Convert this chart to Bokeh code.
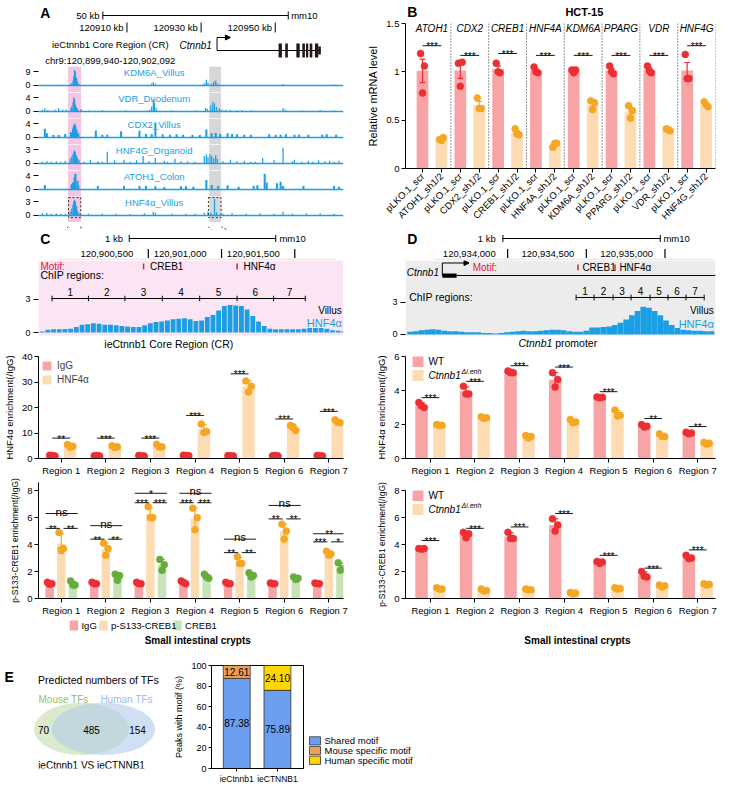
import numpy as np
from bokeh.plotting import figure
from bokeh.models import (Range1d, FixedTicker, Label, Legend, LegendItem, Span,
                          BoxAnnotation, Arrow, NormalHead, ColumnDataSource)
from bokeh.layouts import column, row
from bokeh.core.properties import value
from bokeh.embed import file_html
from bokeh.resources import INLINE

FONT = "Liberation Sans"
TRACK_BLUE = "#1a9fe4"
BAR_RED, BAR_ORG, BAR_GRN = "#f8a4a6", "#fddcb4", "#c8e3b5"
PT_RED, PT_ORG, PT_GRN = "#ec2f33", "#f5a623", "#66ad3b"
E_BLUE, E_ORG, E_YEL = "#6c9ef0", "#ea9f5a", "#fed700"

# ===================== DATA =====================
# ---- Panel A: ChIP-seq peaks (kb on chr9, mm10; signal) ----
track_names = ["KDM6A_Villus", "VDR_Duodenum", "CDX2_Villus", "HNF4G_Organoid", "ATOH1_Colon", "HNF4α_Villus"]
track_scale = [9, 4, 4, 3, 4, 3]
kdm6a_peaks = [(120893.0, 0.3), (120894.3, 0.4), (120895.7, 0.3), (120897.0, 0.5), (120898.6, 0.4), (120900.0, 0.8),
               (120900.2, 1.5), (120900.5, 3.0), (120900.7, 6.0), (120900.9, 10.0), (120901.1, 9.0), (120901.4, 5.0),
               (120901.6, 2.5), (120901.8, 1.2), (120902.0, 0.6), (120903.2, 0.4), (120906.6, 0.3), (120911.1, 0.3),
               (120915.2, 0.3), (120919.8, 1.3), (120920.2, 2.2), (120920.7, 1.2), (120927.0, 0.3), (120930.9, 0.4),
               (120932.7, 1.5), (120933.2, 3.7), (120933.6, 2.0), (120934.5, 1.2), (120935.0, 2.5), (120935.5, 3.2),
               (120935.9, 1.2), (120938.4, 0.4), (120943.0, 0.3), (120947.5, 0.3), (120952.0, 0.9), (120954.3, 0.3),
               (120960.0, 0.3), (120964.5, 0.6)]
vdr_peaks = [(120893.0, 0.5), (120893.6, 0.9), (120894.3, 0.4), (120896.1, 0.6), (120897.0, 0.9), (120898.0, 0.5),
             (120898.9, 0.6), (120900.0, 0.9), (120900.2, 1.5), (120900.5, 2.6), (120900.7, 4.1), (120900.9, 3.5),
             (120901.1, 2.0), (120901.4, 1.2), (120901.6, 0.8), (120902.5, 0.7), (120904.3, 0.3), (120907.7, 0.4),
             (120913.4, 0.3), (120919.3, 0.6), (120919.8, 1.4), (120920.2, 3.5), (120920.5, 2.5), (120920.9, 1.0),
             (120924.8, 0.3), (120930.5, 0.3), (120933.0, 1.0), (120933.4, 0.8), (120934.3, 1.8), (120934.8, 2.7),
             (120935.2, 2.3), (120935.7, 1.3), (120936.4, 0.9), (120937.0, 0.6), (120938.0, 0.5), (120939.1, 0.4),
             (120940.7, 0.4), (120942.0, 0.4), (120944.1, 0.3), (120952.0, 1.0), (120952.5, 0.6), (120956.6, 0.3),
             (120961.1, 0.4), (120964.5, 0.3)]
cdx2_peaks = [(120893.6, 2.5), (120894.1, 1.2), (120895.7, 0.7), (120897.0, 0.7), (120898.6, 1.0), (120900.0, 1.5),
              (120900.5, 2.5), (120900.7, 3.2), (120900.9, 3.9), (120901.1, 3.3), (120901.4, 2.2), (120901.8, 1.2),
              (120906.1, 2.0), (120907.7, 0.8), (120908.9, 0.8), (120912.3, 1.8), (120916.8, 1.9), (120918.4, 1.0),
              (120919.8, 1.0), (120920.7, 4.3), (120922.5, 0.9), (120924.3, 0.8), (120925.9, 0.9), (120927.5, 0.8),
              (120929.8, 0.7), (120931.6, 0.7), (120933.2, 2.3), (120934.5, 1.2), (120935.5, 1.3), (120936.6, 1.0),
              (120938.4, 1.2), (120939.5, 1.0), (120940.7, 0.9), (120942.5, 0.8), (120944.1, 0.8), (120948.6, 0.9),
              (120950.2, 0.7), (120951.4, 0.8), (120952.7, 0.9), (120954.8, 0.8), (120955.9, 0.8), (120958.2, 0.8),
              (120961.6, 0.8), (120962.7, 0.9), (120965.0, 0.8)]
hnf4g_peaks = [(120893.0, 0.4), (120894.1, 0.5), (120895.2, 0.4), (120896.4, 0.5), (120897.5, 0.4), (120898.6, 0.6),
               (120899.8, 1.0), (120900.2, 1.5), (120900.5, 2.0), (120900.7, 2.5), (120900.9, 2.85), (120901.1, 2.4),
               (120901.4, 1.7), (120901.6, 1.2), (120902.0, 0.8), (120903.2, 0.4), (120904.8, 0.8), (120906.6, 0.5),
               (120907.7, 0.4), (120908.9, 2.5), (120910.7, 0.7), (120913.0, 0.8), (120914.5, 0.4), (120916.1, 0.7),
               (120917.7, 1.6), (120919.1, 0.5), (120920.7, 1.2), (120922.9, 0.6), (120923.6, 0.4), (120925.5, 1.0),
               (120927.0, 0.5), (120928.6, 0.5), (120930.5, 0.4), (120932.7, 1.6), (120933.2, 2.0), (120933.6, 1.4),
               (120934.1, 2.0), (120934.5, 1.6), (120935.0, 1.2), (120935.5, 1.8), (120935.9, 1.0), (120937.3, 0.5),
               (120939.1, 0.8), (120940.7, 0.5), (120942.5, 0.6), (120944.1, 0.4), (120945.2, 0.4), (120947.0, 1.2),
               (120949.8, 0.7), (120952.0, 3.4), (120954.3, 0.5), (120954.8, 0.8), (120956.6, 0.4), (120958.2, 0.6),
               (120959.3, 0.4), (120960.7, 0.7), (120962.3, 0.5), (120963.4, 0.6), (120964.5, 0.4), (120965.7, 0.6)]
atoh1_peaks = [(120893.6, 1.3), (120900.2, 1.5), (120900.5, 2.0), (120900.9, 3.5), (120901.1, 4.5), (120901.6, 2.5),
               (120901.8, 1.2), (120906.6, 1.0), (120913.0, 1.0), (120916.8, 1.0), (120918.4, 1.0), (120920.7, 0.9),
               (120922.9, 0.7), (120927.0, 0.9), (120928.2, 0.9), (120930.0, 0.8), (120933.2, 2.7), (120934.5, 1.3),
               (120936.1, 1.0), (120938.4, 1.2), (120941.1, 0.8), (120944.8, 1.0), (120945.7, 1.2), (120947.5, 4.5),
               (120948.0, 2.0), (120950.5, 1.8), (120951.4, 2.2), (120952.0, 1.0), (120957.0, 1.0), (120964.5, 1.0),
               (120965.7, 0.8)]
hnf4a_peaks = [(120893.0, 0.5), (120894.1, 0.6), (120895.2, 0.4), (120896.4, 0.5), (120897.5, 0.4), (120898.6, 0.4),
               (120899.8, 0.8), (120900.2, 1.5), (120900.5, 2.3), (120900.7, 3.0), (120900.9, 3.3), (120901.1, 3.0),
               (120901.4, 2.0), (120901.6, 1.0), (120902.0, 0.6), (120904.3, 0.4), (120907.7, 0.4), (120911.1, 0.4),
               (120914.5, 0.3), (120918.0, 0.5), (120920.2, 0.8), (120920.7, 0.6), (120924.8, 0.4), (120928.2, 0.4),
               (120930.5, 0.4), (120932.7, 0.6), (120933.6, 0.8), (120934.3, 0.6), (120935.2, 3.6), (120935.7, 0.7),
               (120937.3, 0.4), (120939.5, 0.5), (120943.0, 0.4), (120946.4, 0.5), (120949.8, 0.4), (120952.0, 0.8),
               (120954.3, 0.4), (120957.7, 0.5), (120961.1, 0.5), (120964.5, 0.4)]
track_blocky = [False, False, True, False, True, False]
a_coord_ticks_kb = [120910, 120930, 120950]
cr_window_kb = (120899.3, 120902.5)
promoter_window_kb = (120933.9, 120936.8)
ctnnb1_tss_kb = 120934.3
ctnnb1_end_kb = 120962.3
ctnnb1_exons_kb = [(120950.9, 120951.8), (120952.7, 120953.4), (120955.7, 120956.6), (120957.3, 120958.0),
                   (120958.3, 120958.9), (120959.3, 120960.0), (120960.7, 120961.6)]
ctnnb1_utr_kb = (120961.6, 120962.3)

# ---- Panel B: qPCR, HCT-15 ----
b_genes = ["ATOH1", "CDX2", "CREB1", "HNF4A", "KDM6A", "PPARG", "VDR", "HNF4G"]
b_scr_reps = [[1.19, 1.06, 0.78], [1.09, 1.10, 0.85], [1.09, 0.99, 1.00], [1.05, 0.99, 1.00],
              [1.02, 1.02, 0.99], [1.06, 0.98, 1.00], [1.06, 0.99, 1.01], [1.18, 0.93, 0.93]]
b_sh_reps = [[0.30, 0.32, 0.29], [0.73, 0.62, 0.62], [0.41, 0.35, 0.36], [0.22, 0.26, 0.26],
             [0.70, 0.68, 0.61], [0.65, 0.60, 0.52], [0.41, 0.39, 0.40], [0.69, 0.64, 0.66]]
b_sig_y = [1.27, 1.17, 1.19, 1.17, 1.17, 1.17, 1.17, 1.27]
b_sig_txt = ["***", "***", "***", "***", "***", "***", "***", "***"]

# ---- Panel C: ieCtnnb1 core region ----
cr_view_bp = (120899900, 120901775)
cr_bin_start = 120899905
cr_bin_bp = 35
cr_hnf4a_profile = [0.1, 0.25, 0.3, 0.3, 0.32, 0.35, 0.5, 0.7, 0.75, 0.85, 0.8, 0.7, 0.7, 0.65, 0.6, 0.55, 0.5,
                    0.5, 0.65, 0.85, 0.95, 1.0, 1.1, 1.2, 1.25, 1.3, 1.2, 1.05, 1.1, 1.4, 1.6, 2.0, 2.4, 2.5,
                    2.45, 2.4, 2.1, 1.5, 1.0, 0.6, 0.35, 0.3, 0.3, 0.3, 0.3, 0.3, 0.35, 0.4, 0.4, 0.4, 0.35,
                    0.2, 0.15, 0.1]
cr_region_bounds = [120899983, 120900207, 120900431, 120900661, 120900891, 120901121, 120901345, 120901540]
cr_motif_pos = [120900546, 120901121]
cr_motif_names = ["CREB1", "HNF4α"]
cr_coord_ticks = [120900500, 120901000, 120901500]
regions = ["Region 1", "Region 2", "Region 3", "Region 4", "Region 5", "Region 6", "Region 7"]
c_hnf_igg = [[1.3, 1.0, 1.2], [1.1, 1.0, 1.2], [1.2, 1.0, 1.1], [1.3, 1.1, 1.2], [1.2, 1.0, 1.1],
             [1.1, 1.0, 1.2], [1.2, 1.0, 1.1]]
c_hnf_hnf4a = [[5.5, 4.8, 4.4], [5.0, 4.6, 4.3], [5.6, 4.6, 4.5], [13.5, 10.6, 10.2], [30.4, 28.3, 26.1],
               [12.9, 11.0, 12.5], [15.2, 14.0, 14.2]]
c_hnf_sig_y = [8.0, 8.0, 8.0, 16.9, 33.2, 15.5, 18.5]
c_hnf_sig_txt = ["**", "***", "***", "***", "***", "***", "***"]
c_cr_igg = [[1.2, 1.1, 1.05], [1.2, 1.1, 1.1], [1.2, 1.1, 1.1], [1.3, 1.1, 1.2], [1.2, 1.1, 1.1],
            [1.15, 1.1, 1.1], [1.15, 1.1, 1.1]]
c_cr_ps133 = [[4.9, 3.7, 3.6], [4.1, 3.7, 3.2], [6.8, 6.0, 6.0], [6.7, 6.0, 5.1], [3.1, 2.6, 2.6],
              [5.5, 5.0, 4.4], [3.5, 3.3, 3.2]]
c_cr_creb1 = [[1.3, 1.0, 1.0], [1.8, 1.7, 1.35], [2.9, 2.5, 2.1], [1.8, 1.5, 1.6], [1.9, 1.7, 1.6],
              [1.6, 1.5, 1.4], [2.65, 2.2, 2.1]]
c_cr_top_y = [6.3, 5.4, 7.8, 7.8, 4.4, 6.9, 4.8]
c_cr_top_txt = ["ns", "ns", "*", "ns", "ns", "ns", "**"]
c_cr_pair_y = [5.2, 4.4, 7.1, 7.1, 3.4, 5.9, 4.2]
c_cr_left_txt = ["**", "**", "***", "***", "**", "**", "***"]
c_cr_right_txt = ["**", "**", "***", "***", "**", "**", "*"]

# ---- Panel D: Ctnnb1 promoter ----
pr_view_bp = (120933533, 120935310)
pr_bin_start = 120933543
pr_bin_bp = 32.6
pr_hnf4a_profile = [0.25, 0.3, 0.4, 0.45, 0.5, 0.45, 0.35, 0.3, 0.3, 0.25, 0.2, 0.2, 0.2, 0.15, 0.15, 0.1,
                    0.15, 0.2, 0.25, 0.3, 0.35, 0.3, 0.3, 0.35, 0.4, 0.45, 0.45, 0.4, 0.3, 0.25, 0.25, 0.35,
                    0.65, 0.65, 0.7, 0.75, 0.9, 1.1, 1.4, 1.8, 2.2, 2.6, 2.5, 2.2, 1.8, 1.3, 0.9, 0.6, 0.45,
                    0.4, 0.35, 0.35, 0.3, 0.3]
pr_region_bounds = [120934511, 120934614, 120934723, 120934826, 120934935, 120935038, 120935141, 120935245]
pr_motif_pos = [120934522, 120934734]
pr_coord_ticks = [120934000, 120934500, 120935000]
pr_tss_bp = 120933744
pr_exon_bp = (120933744, 120933826)
d_hnf_wt = [[3.3, 3.0, 3.1], [4.25, 3.8, 3.8], [5.15, 5.05, 5.05], [5.05, 4.65, 4.2], [3.62, 3.6, 3.58],
            [2.0, 1.9, 1.85], [1.55, 1.5, 1.45]]
d_hnf_mut = [[2.0, 1.95, 1.95], [2.45, 2.4, 2.35], [1.35, 1.3, 1.2], [2.3, 2.15, 2.1], [2.85, 2.55, 2.5],
             [1.45, 1.3, 1.3], [0.95, 0.9, 0.85]]
d_hnf_sig_y = [3.58, 4.54, 5.46, 5.38, 3.93, 2.35, 1.88]
d_hnf_sig_txt = ["***", "***", "***", "***", "***", "**", "**"]
d_cr_wt = [[3.7, 3.7, 3.65], [4.9, 4.8, 4.5], [4.9, 4.45, 4.45], [5.9, 5.45, 5.0], [2.75, 2.7, 2.6],
           [2.0, 1.6, 1.65], [3.2, 3.0, 2.95]]
d_cr_mut = [[0.8, 0.7, 0.7], [0.7, 0.6, 0.55], [0.7, 0.65, 0.65], [0.45, 0.4, 0.35], [0.8, 0.75, 0.7],
            [1.0, 0.95, 0.85], [1.1, 1.05, 1.0]]
d_cr_sig_y = [4.3, 5.2, 5.3, 6.3, 3.2, 2.25, 3.6]
d_cr_sig_txt = ["***", "***", "***", "***", "***", "***", "***"]

# ---- Panel E ----
venn_counts = [70, 485, 154]
e_groups = ["ieCtnnb1", "ieCTNNB1"]
e_shared = [87.38, 75.89]
e_mouse_only = [12.61, 0.0]
e_human_only = [0.0, 24.10]


# ===================== HELPERS =====================
def mkfig(w, h, xr, yr, l=0, r=0, t=0, b=0, xaxis=True, yaxis=True):
    p = figure(width=w, height=h, x_range=xr, y_range=yr,
               x_axis_location="below" if xaxis else None,
               y_axis_location="left" if yaxis else None,
               min_border_left=l, min_border_right=r, min_border_top=t, min_border_bottom=b,
               output_backend="svg", toolbar_location=None, tools="")
    p.outline_line_color = None
    p.xgrid.visible = False
    p.ygrid.visible = False
    return p


def txt(p, x, y, s, size=9, color="black", align="left", baseline="middle", style="normal", yoff=0):
    p.text(x=[x], y=[y], text=[s], text_font=value(FONT), text_font_size=f"{size}px",
           text_color=color, text_align=align, text_baseline=baseline,
           text_font_style=style, y_offset=yoff)


def slab(p, x, y, s, size=10, style="normal", align="left", baseline="middle", color="black"):
    p.add_layout(Label(x=x, y=y, x_units="screen", y_units="screen", text=s, text_font=FONT,
                       text_font_size=f"{size}px", text_font_style=style, text_align=align,
                       text_baseline=baseline, text_color=color))


def style_axis(ax, size=9.5, tick_out=4):
    ax.axis_line_color = "black"
    ax.axis_line_width = 1
    ax.major_tick_line_color = "black"
    ax.major_tick_in = 0
    ax.major_tick_out = tick_out
    ax.minor_tick_line_color = None
    ax.major_label_text_font = FONT
    ax.major_label_text_font_size = f"{size}px"
    ax.major_label_text_color = "black"
    ax.major_label_standoff = 2
    ax.axis_label_text_font = FONT
    ax.axis_label_text_font_style = "normal"
    ax.axis_label_text_font_size = "9.5px"
    ax.axis_label_text_color = "black"
    ax.axis_label_standoff = 4


def track_axis(p, top):
    ax = p.yaxis[0]
    style_axis(ax, 9, 5)
    ax.ticker = FixedTicker(ticks=[0, top])
    ax.axis_line_color = None
    ax.major_label_standoff = 3


def sig(p, x0, x1, y, s, size=10):
    p.segment(x0=[x0], y0=[y], x1=[x1], y1=[y], line_color="black", line_width=0.9)
    if "*" in s:
        txt(p, (x0 + x1) / 2, y, s, size, align="center", baseline="alphabetic", yoff=1)
    else:
        txt(p, (x0 + x1) / 2, y, s, size + 1.5, align="center", baseline="alphabetic", yoff=-2)


def grouped(p, series, offs, width, bar_cols, pt_cols, jit, cap, xs, err="sd"):
    rends = []
    for pts, off, bc, pc in zip(series, offs, bar_cols, pt_cols):
        arr = np.array(pts, dtype=float)
        m = arr.mean(axis=1)
        e = arr.std(axis=1, ddof=1)
        if err == "sem":
            e = e / np.sqrt(arr.shape[1])
        x = np.array(xs, dtype=float) + off
        r = p.vbar(x=x, top=m, width=width, fill_color=bc, line_color=None)
        p.segment(x0=x, y0=m - e, x1=x, y1=m + e, line_color=pc, line_width=1.2)
        p.segment(x0=x - cap, y0=m + e, x1=x + cap, y1=m + e, line_color=pc, line_width=1.2)
        p.segment(x0=x - cap, y0=m - e, x1=x + cap, y1=m - e, line_color=pc, line_width=1.2)
        px = (x[:, None] + np.array(jit)[None, :]).ravel()
        p.scatter(x=px, y=arr.ravel(), size=7, fill_color=pc, line_color=pc, line_width=0.5)
        rends.append(r)
    return rends


def region_axes(p, yticks, ylabel):
    style_axis(p.xaxis[0], 9.5)
    style_axis(p.yaxis[0], 9.5)
    p.xaxis[0].ticker = FixedTicker(ticks=[1, 2, 3, 4, 5, 6, 7])
    p.xaxis[0].major_label_overrides = {i + 1: regions[i] for i in range(7)}
    p.yaxis[0].ticker = FixedTicker(ticks=yticks)
    p.yaxis[0].axis_label = ylabel


def mk_legend(items, location, orientation="vertical", spacing=2, size="10px", margin=3):
    return Legend(items=[LegendItem(label=l, renderers=[r]) for l, r in items], location=location,
                  orientation=orientation, label_text_font=FONT, label_text_font_size=size,
                  glyph_width=11, glyph_height=11, label_height=12, label_standoff=5,
                  spacing=spacing, padding=0, margin=margin, border_line_color=None,
                  background_fill_alpha=0)


def man_legend(p, fh, x0, ys, entries):
    for y, (col, lab, style, sup) in zip(ys, entries):
        yc = fh - y
        p.add_layout(BoxAnnotation(left=x0, right=x0 + 11, bottom=yc - 5.5, top=yc + 5.5,
                                   left_units="screen", right_units="screen",
                                   bottom_units="screen", top_units="screen",
                                   fill_color=col, fill_alpha=1, line_color=None))
        slab(p, x0 + 16, yc, lab, 10, style)
        if sup:
            slab(p, x0 + 49, yc + 4, sup, 7, "italic")


def strip_key(p, xs, yc, labels, colors, size=10, outline=None, box=11):
    # legend swatches + labels drawn in a strip whose frame is the full canvas (pixel units)
    h = box / 2
    p.quad(left=[x for x in xs], right=[x + box for x in xs], top=[yc - h] * len(xs),
           bottom=[yc + h] * len(xs), fill_color=colors, line_color=outline, line_width=0.8)
    for x, lab in zip(xs, labels):
        txt(p, x + box + 4, yc, lab, size)


# ===================== PANEL A =====================
hdr = mkfig(362, 66, Range1d(120886.14, 120968.41), Range1d(66, 0), xaxis=False, yaxis=False)
txt(hdr, 120886.6, 12, "A", 14, style="bold")
txt(hdr, 120902.6, 15, "50 kb", 9.5, align="right")
hdr.segment(x0=[120903.5], y0=[15], x1=[120953.5], y1=[15], line_color="black", line_width=1)
hdr.segment(x0=[120903.5, 120953.5], y0=[11, 11], x1=[120903.5, 120953.5], y1=[19, 19], line_color="black")
txt(hdr, 120954.3, 15, "mm10", 9.5)
for kb in a_coord_ticks_kb:
    txt(hdr, kb - 0.9, 27, f"{kb} kb", 9.5, align="right")
    hdr.segment(x0=[kb], y0=[22], x1=[kb], y1=[32], line_color="black")
txt(hdr, 120905.5, 44, "ieCtnnb1 Core Region (CR)", 9.5, align="center")
txt(hdr, 120905.5, 60, "chr9:120,899,940-120,902,092", 9.5, align="center")
txt(hdr, 120932.9, 45, "Ctnnb1", 10, style="italic", align="right")
hdr.segment(x0=[ctnnb1_tss_kb], y0=[50], x1=[ctnnb1_tss_kb], y1=[37], line_color="black")
hdr.add_layout(Arrow(end=NormalHead(size=5, fill_color="black", line_color="black"),
                     x_start=ctnnb1_tss_kb, y_start=37, x_end=ctnnb1_tss_kb + 3.6, y_end=37,
                     line_color="black", line_width=1))
hdr.segment(x0=[ctnnb1_tss_kb], y0=[50], x1=[ctnnb1_end_kb], y1=[50], line_color="black")
hdr.quad(left=[e[0] for e in ctnnb1_exons_kb], right=[e[1] for e in ctnnb1_exons_kb],
         top=43, bottom=57, fill_color="#231815", line_color=None)
hdr.quad(left=[ctnnb1_utr_kb[0]], right=[ctnnb1_utr_kb[1]], top=46, bottom=54,
         fill_color="#231815", line_color=None)

xr_track = Range1d(120892.05, 120966.82)
tracks = []
all_peaks = [kdm6a_peaks, vdr_peaks, cdx2_peaks, hnf4g_peaks, atoh1_peaks, hnf4a_peaks]
for i, (name, m, peaks, blocky) in enumerate(zip(track_names, track_scale, all_peaks, track_blocky)):
    p = mkfig(362, 26, xr_track, Range1d(-0.5 * m, 1.357 * m), l=26, r=7, xaxis=False)
    track_axis(p, m)
    p.add_layout(BoxAnnotation(left=cr_window_kb[0], right=cr_window_kb[1], fill_color="#f7c4e3",
                               fill_alpha=1, line_color=None, level="underlay"))
    p.add_layout(BoxAnnotation(left=promoter_window_kb[0], right=promoter_window_kb[1], fill_color="#d7d7d7",
                               fill_alpha=1, line_color=None, level="underlay"))
    p.vbar(x=[q[0] for q in peaks], top=[q[1] for q in peaks], bottom=0,
           width=0.5 if blocky else 0.3, fill_color=TRACK_BLUE, line_color=None)
    p.add_layout(Span(location=0, dimension="width", line_color=TRACK_BLUE, line_width=1.5))
    txt(p, 120920.4, 0.93 * m, name, 9.5, color=TRACK_BLUE, align="center")
    if i == 5:
        p.quad(left=[120899.4, 120933.7], right=[120902.4, 120936.8], bottom=[-0.45, -0.45],
               top=[3.85, 3.85], fill_color=None, line_color="#333333", line_dash="2 2", line_width=1)
    tracks.append(p)

foot = mkfig(362, 8, xr_track, Range1d(8, 0), l=26, r=7, xaxis=False, yaxis=False)
foot.segment(x0=[120899.4, 120902.4, 120933.7, 120936.8], y0=[0, 0, 0, 0],
             x1=[120897.6, 120903.0, 120935.4, 120940.2], y1=[8, 8, 8, 8],
             line_color="#333333", line_dash="2 2", line_width=1)

# ===================== PANEL B =====================
pBh = mkfig(357, 18, Range1d(0, 357), Range1d(18, 0), xaxis=False, yaxis=False)
txt(pBh, 2, 11, "B", 14, style="bold")
txt(pBh, 206, 11, "HCT-15", 11, style="bold", align="center")

pB = mkfig(357, 212, Range1d(-0.9, 15.5), Range1d(0, 1.5), l=32, r=2, t=5, b=62)
style_axis(pB.xaxis[0], 9.5)
style_axis(pB.yaxis[0], 9.5)
pB.yaxis[0].ticker = FixedTicker(ticks=[0, 0.5, 1.0, 1.5])
pB.yaxis[0].axis_label = "Relative mRNA level"
pB.yaxis[0].axis_label_text_font_size = "11px"
b_tick_labels = []
for g in b_genes:
    b_tick_labels += ["pLKO.1_scr", g + "_sh1/2"]
pB.xaxis[0].ticker = FixedTicker(ticks=list(range(16)))
pB.xaxis[0].major_label_overrides = {i: lab for i, lab in enumerate(b_tick_labels)}
pB.xaxis[0].major_label_orientation = np.pi / 4
bx = [2 * g for g in range(8)]
grouped(pB, [b_scr_reps, b_sh_reps], [0, 1], 0.62, [BAR_RED, BAR_ORG], [PT_RED, PT_ORG],
        [-0.1, 0.1, 0.0], 0.15, bx, err="sem")
for k in range(8):
    pB.add_layout(Span(location=1.5 + 2 * k, dimension="height", line_color="#333333",
                       line_dash="1 2", line_width=1))
    txt(pB, 2 * k + 0.5, 1.45, b_genes[k], 10, style="italic", align="center")
    sig(pB, 2 * k, 2 * k + 1, b_sig_y[k], b_sig_txt[k])

# ===================== PANEL C (track) =====================
pCh = mkfig(362, 30, Range1d(120899750.5, 120901832.5), Range1d(30, 0), xaxis=False, yaxis=False)
pCh.quad(left=[cr_view_bp[0]], right=[cr_view_bp[1]], bottom=[30], top=[28], fill_color="#fbe4f3",
         line_color=None)
txt(pCh, 120899762, 8, "C", 14, style="bold")
txt(pCh, 120900327, 8, "1 kb", 9.5, align="right")
pCh.segment(x0=[120900370], y0=[8], x1=[120901370], y1=[8], line_color="black")
pCh.segment(x0=[120900370, 120901370], y0=[4.5, 4.5], x1=[120900370, 120901370], y1=[11.5, 11.5],
            line_color="black")
txt(pCh, 120901395, 8, "mm10", 9.5)
for c in cr_coord_ticks:
    txt(pCh, c - 103, 23, f"{c:,}", 9.5, align="right")
    pCh.segment(x0=[c], y0=[18.5], x1=[c], y1=[27.5], line_color="black", line_width=1.2)

pC = mkfig(362, 90, Range1d(*cr_view_bp), Range1d(-1.636, 6.545), l=26, r=10, xaxis=False)
track_axis(pC, 3)
pC.add_layout(BoxAnnotation(bottom=-0.27, fill_color="#fbe4f3", fill_alpha=1,
                            line_color=None, level="underlay"))
txt(pC, 120899912, 6.0, "Motif:", 10, color="#e8202a")
for mp, mn in zip(cr_motif_pos, cr_motif_names):
    pC.segment(x0=[mp], y0=[5.72], x1=[mp], y1=[6.28], line_color="#e8202a", line_width=1.5)
    txt(pC, mp + 40, 6.0, mn, 10)
txt(pC, 120899912, 5.27, "ChIP regions:", 10.5)
pC.segment(x0=[cr_region_bounds[0]], y0=[3.09], x1=[cr_region_bounds[-1]], y1=[3.09], line_color="black")
pC.segment(x0=cr_region_bounds, y0=[2.84] * 8, x1=cr_region_bounds, y1=[3.34] * 8, line_color="black")
for k in range(7):
    txt(pC, (cr_region_bounds[k] + cr_region_bounds[k + 1]) / 2, 3.64, str(k + 1), 10, align="center")
cr_x = [cr_bin_start + (k + 0.5) * cr_bin_bp for k in range(len(cr_hnf4a_profile))]
pC.vbar(x=cr_x, top=cr_hnf4a_profile, bottom=0, width=cr_bin_bp * 0.85, fill_color=TRACK_BLUE, line_color=None)
txt(pC, 120901765, 2.0, "Villus", 10, align="right")
txt(pC, 120901765, 0.82, "HNF4α", 11, color=TRACK_BLUE, align="right")
txt(pC, 120900701, -1.0, "ieCtnnb1 Core Region (CR)", 10.5, align="center")

# ===================== PANEL D (track) =====================
pDh = mkfig(357, 30, Range1d(120933350.9, 120935321.0), Range1d(30, 0), xaxis=False, yaxis=False)
pDh.quad(left=[pr_view_bp[0]], right=[pr_view_bp[1]], bottom=[30], top=[28], fill_color="#ececec",
         line_color=None)
txt(pDh, 120933362, 8, "D", 14, style="bold")
txt(pDh, 120933924, 8, "1 kb", 9.5, align="right")
pDh.segment(x0=[120933970], y0=[8], x1=[120934970], y1=[8], line_color="black")
pDh.segment(x0=[120933970, 120934970], y0=[4.5, 4.5], x1=[120933970, 120934970], y1=[11.5, 11.5],
            line_color="black")
txt(pDh, 120934990, 8, "mm10", 9.5)
for c in pr_coord_ticks:
    txt(pDh, c - 76, 23, f"{c:,}", 9.5, align="right")
    pDh.segment(x0=[c], y0=[18.5], x1=[c], y1=[27.5], line_color="black", line_width=1.2)

pD = mkfig(357, 90, Range1d(*pr_view_bp), Range1d(-1.5, 6.935), l=33, r=2, xaxis=False)
track_axis(pD, 3)
pD.add_layout(BoxAnnotation(bottom=-0.09, fill_color="#ececec", fill_alpha=1,
                            line_color=None, level="underlay"))
txt(pD, 120933725, 5.8, "Ctnnb1", 10, style="italic", align="right")
pD.segment(x0=[pr_tss_bp], y0=[5.53], x1=[pr_tss_bp], y1=[6.7], line_color="black")
pD.add_layout(Arrow(end=NormalHead(size=5, fill_color="black", line_color="black"),
                    x_start=pr_tss_bp, y_start=6.7, x_end=pr_tss_bp + 153, y_end=6.7,
                    line_color="black", line_width=1))
pD.quad(left=[pr_exon_bp[0]], right=[pr_exon_bp[1]], bottom=[5.33], top=[5.72], fill_color="black",
        line_color=None)
pD.segment(x0=[pr_exon_bp[1]], y0=[5.53], x1=[pr_view_bp[1]], y1=[5.53], line_color="black")
txt(pD, 120933918, 6.3, "Motif:", 10, color="#e8202a")
for mp, mn in zip(pr_motif_pos, cr_motif_names):
    pD.segment(x0=[mp], y0=[6.03], x1=[mp], y1=[6.57], line_color="#e8202a", line_width=1.5)
    txt(pD, mp + 25, 6.3, mn, 10)
txt(pD, 120933554, 3.47, "ChIP regions:", 10.5)
pD.segment(x0=[pr_region_bounds[0]], y0=[3.47], x1=[pr_region_bounds[-1]], y1=[3.47], line_color="black")
pD.segment(x0=pr_region_bounds, y0=[3.2] * 8, x1=pr_region_bounds, y1=[3.74] * 8, line_color="black")
for k in range(7):
    txt(pD, (pr_region_bounds[k] + pr_region_bounds[k + 1]) / 2, 4.1, str(k + 1), 10, align="center")
pr_x = [pr_bin_start + (k + 0.5) * pr_bin_bp for k in range(len(pr_hnf4a_profile))]
pD.vbar(x=pr_x, top=pr_hnf4a_profile, bottom=0, width=pr_bin_bp, fill_color=TRACK_BLUE, line_color=None)
txt(pD, 120935300, 2.25, "Villus", 10, align="right")
txt(pD, 120935300, 1.03, "HNF4α", 11, color=TRACK_BLUE, align="right")
txt(pD, 120934375, -0.84, "Ctnnb1", 10.5, style="italic", align="right")
txt(pD, 120934391, -0.84, "promoter", 10.5)

# ===================== PANEL C (bars) =====================
pC1 = mkfig(362, 128, Range1d(0.49, 7.33), Range1d(0, 40), l=35, r=19, t=6, b=18)
region_axes(pC1, [0, 10, 20, 30, 40], "HNF4α enrichment(/IgG)")
rC1 = grouped(pC1, [c_hnf_igg, c_hnf_hnf4a], [-0.2, 0.2], 0.28, [BAR_RED, BAR_ORG], [PT_RED, PT_ORG],
              [-0.06, 0.06, 0.0], 0.07, [1, 2, 3, 4, 5, 6, 7])
for k in range(7):
    sig(pC1, k + 1 - 0.2, k + 1 + 0.2, c_hnf_sig_y[k], c_hnf_sig_txt[k])
pC1.add_layout(mk_legend([("IgG", rC1[0]), ("HNF4α", rC1[1])], "top_left"))

pC2 = mkfig(362, 140, Range1d(0.49, 7.33), Range1d(0, 8.6), l=35, r=19, t=4, b=18)
region_axes(pC2, [0, 2, 4, 6, 8], "p-S133-CREB1 enrichment(/IgG)")
pC2.yaxis[0].axis_label_text_font_size = "8.5px"
grouped(pC2, [c_cr_igg, c_cr_ps133, c_cr_creb1], [-0.26, 0.0, 0.26], 0.19,
        [BAR_RED, BAR_ORG, BAR_GRN], [PT_RED, PT_ORG, PT_GRN], [-0.05, 0.05, 0.0], 0.06,
        [1, 2, 3, 4, 5, 6, 7])
for k in range(7):
    x = k + 1
    sig(pC2, x - 0.35, x + 0.37, c_cr_top_y[k], c_cr_top_txt[k])
    sig(pC2, x - 0.35, x - 0.03, c_cr_pair_y[k], c_cr_left_txt[k])
    sig(pC2, x + 0.05, x + 0.37, c_cr_pair_y[k], c_cr_right_txt[k])

# legend key + x title strip under C (pixel units)
pC2s = mkfig(362, 30, Range1d(0, 362), Range1d(30, 0), xaxis=False, yaxis=False)
strip_key(pC2s, [37, 72, 160], 7, ["IgG", "p-S133-CREB1", "CREB1"], [BAR_RED, BAR_ORG, BAR_GRN],
          size=9.5, box=10)
txt(pC2s, 189, 22, "Small intestinal crypts", 10, style="bold", align="center")

# ===================== PANEL D (bars) =====================
pD1 = mkfig(357, 128, Range1d(0.44, 7.4), Range1d(0, 6), l=43, r=4, t=6, b=18)
region_axes(pD1, [0, 2, 4, 6], "HNF4α enrichment(/IgG)")
grouped(pD1, [d_hnf_wt, d_hnf_mut], [-0.2, 0.2], 0.28, [BAR_RED, BAR_ORG], [PT_RED, PT_ORG],
        [-0.06, 0.06, 0.0], 0.07, [1, 2, 3, 4, 5, 6, 7])
for k in range(7):
    sig(pD1, k + 1 - 0.2, k + 1 + 0.2, d_hnf_sig_y[k], d_hnf_sig_txt[k])
man_legend(pD1, 104, 7, [7, 21], [(BAR_RED, "WT", "normal", None),
                                 (BAR_ORG, "Ctnnb1", "italic", "Δi.enh")])

pD2 = mkfig(357, 140, Range1d(0.44, 7.4), Range1d(0, 8), l=43, r=4, t=12, b=18)
region_axes(pD2, [0, 2, 4, 6, 8], "p-S133-CREB1 enrichment(/IgG)")
pD2.yaxis[0].axis_label_text_font_size = "8.5px"
grouped(pD2, [d_cr_wt, d_cr_mut], [-0.2, 0.2], 0.28, [BAR_RED, BAR_ORG], [PT_RED, PT_ORG],
        [-0.06, 0.06, 0.0], 0.07, [1, 2, 3, 4, 5, 6, 7])
for k in range(7):
    sig(pD2, k + 1 - 0.2, k + 1 + 0.2, d_cr_sig_y[k], d_cr_sig_txt[k])
man_legend(pD2, 110, 7, [7, 21], [(BAR_RED, "WT", "normal", None),
                                 (BAR_ORG, "Ctnnb1", "italic", "Δi.enh")])

pD2s = mkfig(357, 30, Range1d(0, 357), Range1d(30, 0), xaxis=False, yaxis=False)
txt(pD2s, 198, 22, "Small intestinal crypts", 10, style="bold", align="center")

# ===================== PANEL E =====================
pV = mkfig(171, 138, Range1d(0, 171), Range1d(138, 0), xaxis=False, yaxis=False)
txt(pV, 4, 15, "E", 14, style="bold")
txt(pV, 98, 20, "Predicted numbers of TFs", 10.5, align="center")
pV.ellipse(x=[81], y=[85], width=[95], height=[70], fill_color="#c3daaa", fill_alpha=0.6, line_color=None)
pV.ellipse(x=[103], y=[85], width=[103], height=[70], fill_color="#b1cbe9", fill_alpha=0.6, line_color=None)
txt(pV, 63, 45, "Mouse TFs", 10, color="#8ec36b", align="center")
txt(pV, 126, 45, "Human TFs", 10, color="#9fbbe8", align="center")
for xv, cnt in zip([43, 91, 137], venn_counts):
    txt(pV, xv, 86, str(cnt), 10, align="center")
txt(pV, 91, 134, "ieCtnnb1 VS ieCTNNB1", 10, align="center")

pE = mkfig(136, 138, Range1d(0.38, 2.64), Range1d(0, 100), l=40, r=4, t=17, b=16)
pE.outline_line_color = "black"
style_axis(pE.xaxis[0], 8.5, 3)
style_axis(pE.yaxis[0], 9, 3)
pE.yaxis[0].ticker = FixedTicker(ticks=[0, 20, 40, 60, 80, 100])
pE.yaxis[0].axis_label = "Peaks with motif (%)"
pE.yaxis[0].axis_label_text_font_size = "9px"
pE.xaxis[0].ticker = FixedTicker(ticks=[1, 2])
pE.xaxis[0].major_label_overrides = {1: e_groups[0], 2: e_groups[1]}
e_src = ColumnDataSource(dict(x=[1, 2], shared=e_shared, mouse=e_mouse_only, human=e_human_only))
pE.vbar_stack(["shared", "mouse", "human"], x="x", width=0.66, fill_color=[E_BLUE, E_ORG, E_YEL],
              line_color="#333333", line_width=0.8, source=e_src)
for j in range(2):
    base = 0.0
    for v in (e_shared[j], e_mouse_only[j], e_human_only[j]):
        if v > 0:
            txt(pE, j + 1, base + v / 2, f"{v:.2f}", 10, align="center")
        base += v

pEl = mkfig(140, 138, Range1d(0, 140), Range1d(138, 0), xaxis=False, yaxis=False)
for yc, lab, col in zip([101, 114, 127], ["Shared motif", "Mouse specific motif", "Human specific motif"],
                        [E_BLUE, E_ORG, E_YEL]):
    strip_key(pEl, [2], yc, [lab], [col], size=9.5, outline="#333333")

# ===================== LAYOUT =====================
left = column(hdr, *tracks, foot, pCh, pC, pC1, pC2, pC2s)
right = column(pBh, pB, pDh, pD, pD1, pD2, pD2s)
layout = column(row(left, right), row(pV, pE, pEl))

open("out.html", "w").write(file_html(layout, INLINE))
